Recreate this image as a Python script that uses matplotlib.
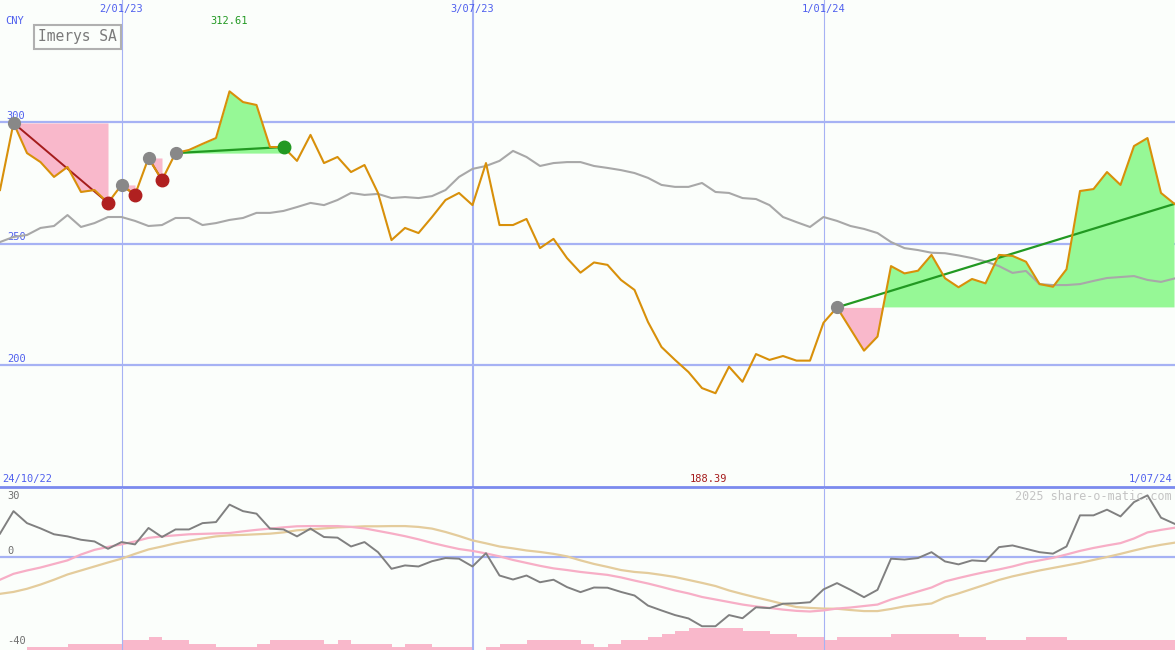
import numpy as np
import pandas as pd
import matplotlib
matplotlib.use('Agg')
import matplotlib.pyplot as plt
import matplotlib.dates as mdates

# weekly data, 88 weeks
dates = pd.date_range('2022-10-31', periods=88, freq='7D')

price = [272.0, 299.6, 287.2, 283.5, 277.4, 281.5, 271.2, 272.0, 266.7, 274.1,
         270.0, 285.2, 276.1, 287.2, 288.5, 291.0, 293.4, 312.61, 308.2, 307.0,
         289.7, 289.7, 284.0, 294.7, 283.1, 285.6, 279.4, 282.3, 270.8, 251.4,
         256.4, 254.3, 260.9, 267.9, 270.8, 265.8, 283.1, 257.6, 257.6, 260.1,
         248.1, 251.9, 244.0, 238.0, 242.2, 241.2, 235.0, 230.9, 217.7, 207.4,
         202.1, 197.1, 190.5, 188.39, 199.3, 193.1, 204.5, 202.1, 203.7, 201.8,
         201.8, 217.4, 223.7, 214.8, 205.9, 211.7, 240.7, 237.7, 238.8, 245.3,
         235.7, 232.0, 235.4, 233.6, 245.3, 244.9, 242.5, 233.3, 232.2, 239.4,
         271.6, 272.4, 279.4, 274.1, 290.1, 293.4, 270.8, 266.3]

avg_price = [250.6, 252.7, 253.5, 256.4, 257.2, 261.7, 256.8, 258.4, 260.9, 260.9,
             259.3, 257.2, 257.6, 260.5, 260.5, 257.6, 258.4, 259.7, 260.5, 262.6,
             262.6, 263.4, 265.0, 266.7, 265.8, 267.9, 270.8, 270.0, 270.4, 268.7,
             269.1, 268.7, 269.5, 272.0, 277.4, 280.7, 281.9, 284.0, 288.1, 285.6,
             281.9, 283.1, 283.5, 283.5, 281.9, 281.1, 280.2, 279.0, 277.0, 274.1,
             273.3, 273.3, 274.9, 271.2, 270.8, 268.7, 268.3, 265.8, 260.9, 258.8,
             256.8, 260.9, 259.3, 257.2, 256.0, 254.3, 250.6, 248.1, 247.3, 246.2,
             246.0, 245.1, 244.0, 242.6, 240.7, 237.9, 238.7, 233.3, 232.9, 232.9,
             233.3, 234.6, 235.8, 236.2, 236.6, 235.0, 234.2, 235.6]

momentum = [11.3, 22.0, 16.3, 13.8, 11.0, 10.0, 8.4, 7.6, 4.1, 7.3,
            6.2, 14.0, 9.7, 13.3, 13.3, 16.3, 16.8, 25.1, 22.0, 20.8,
            13.7, 13.3, 10.0, 13.7, 9.7, 9.4, 5.2, 7.3, 2.5, -5.4,
            -3.8, -4.3, -1.8, -0.3, -0.6, -4.3, 2.0, -8.6, -10.5, -8.6,
            -11.8, -10.6, -14.1, -16.5, -14.3, -14.4, -16.4, -18.1, -22.9, -25.2,
            -27.4, -29.0, -32.7, -32.7, -27.4, -28.9, -23.7, -24.1, -22.0, -21.8,
            -21.3, -15.2, -12.2, -15.4, -18.9, -15.4, -0.6, -1.0, -0.3, 2.5,
            -1.9, -3.3, -1.4, -1.8, 4.9, 5.7, 4.1, 2.5, 1.8, 5.2,
            20.0, 20.0, 22.7, 19.5, 26.3, 29.5, 18.9, 16.0]

mom_fast = [-10.6, -7.8, -6.2, -4.8, -3.1, -1.4, 1.4, 3.6, 5.0, 6.2,
            7.6, 9.3, 10.0, 10.5, 11.0, 11.2, 11.4, 11.6, 12.4, 13.1,
            13.7, 14.3, 14.8, 14.9, 14.9, 14.9, 14.5, 13.8, 12.6, 11.4,
            10.1, 8.6, 6.9, 5.4, 4.0, 3.1, 1.9, 0.5, -1.2, -2.6,
            -4.0, -5.2, -6.0, -6.9, -7.6, -8.3, -9.5, -11.0, -12.4, -14.0,
            -15.7, -17.1, -18.8, -20.0, -21.2, -22.4, -23.3, -24.0, -24.8, -25.4,
            -25.7, -25.2, -24.3, -23.8, -23.1, -22.4, -20.0, -18.1, -16.2, -14.3,
            -11.4, -9.8, -8.3, -6.9, -5.7, -4.3, -2.6, -1.4, -0.2, 1.4,
            3.1, 4.5, 5.7, 6.8, 9.0, 11.9, 13.1, 14.1]

mom_slow = [-17.3, -16.4, -14.9, -12.9, -10.6, -8.1, -6.2, -4.3, -2.4, -0.6,
            1.7, 3.8, 5.2, 6.7, 7.9, 9.0, 10.0, 10.5, 10.7, 11.0,
            11.3, 11.9, 12.9, 13.3, 13.8, 14.3, 14.5, 14.8, 14.8, 14.9,
            14.9, 14.5, 13.7, 12.1, 10.2, 8.1, 6.7, 5.2, 4.3, 3.3,
            2.6, 1.7, 0.5, -1.4, -3.1, -4.5, -6.0, -6.9, -7.4, -8.3,
            -9.3, -10.7, -12.1, -13.6, -15.7, -17.4, -19.0, -20.5, -22.1, -23.6,
            -24.0, -24.3, -24.4, -25.0, -25.5, -25.5, -24.5, -23.3, -22.6, -21.9,
            -19.0, -17.1, -15.0, -12.9, -10.7, -9.0, -7.6, -6.2, -5.0, -3.8,
            -2.6, -1.2, 0.2, 1.7, 3.3, 4.8, 6.0, 7.0]

volume = [0, 0, 1, 1, 1, 2, 2, 2, 2, 3,
          3, 4, 3, 3, 2, 2, 1, 1, 1, 2,
          3, 3, 3, 3, 2, 3, 2, 2, 2, 1,
          2, 2, 1, 1, 1, 0, 1, 2, 2, 3,
          3, 3, 3, 2, 1, 2, 3, 3, 4, 5,
          6, 7, 7, 7, 7, 6, 6, 5, 5, 4,
          4, 3, 4, 4, 4, 4, 5, 5, 5, 5,
          5, 4, 4, 3, 3, 3, 4, 4, 4, 3,
          3, 3, 3, 3, 3, 3, 3, 3]

# signal runs (start week, end week)
loss_runs = [(1, 8), (9, 10), (11, 12)]
gain_runs = [(13, 21)]
open_run = 62

price_levels = [300, 250, 200]
mom_labels = [30, 0, -40]
marker_dates = pd.to_datetime(['2023-01-02', '2023-07-03', '2024-01-01'])
range_start = '24/10/22'
range_end = '1/07/24'
title = 'Imerys SA'
currency = 'CNY'

# colours
bg = '#fbfefb'
grid_c = '#a6b2f4'
blue_txt = '#5060ee'
orange = '#d8900a'
pink = '#f9b8cb'
green_fill = '#96f896'
green = '#229922'
dred = '#a51c1c'

x = mdates.date2num(dates)
p = np.array(price)
step = x[1] - x[0]
x_end = x[0] + step * 1175 / 13.5

fig = plt.figure(figsize=(11.75, 6.5), dpi=100, facecolor=bg)
ax = fig.add_axes([0, 163 / 650, 1, 487 / 650], facecolor=bg)
ax2 = fig.add_axes([0, 0, 1, 162 / 650], facecolor=bg)
for a in (ax, ax2):
    a.set_xlim(x[0], x_end)
    a.set_xticks([])
    a.set_yticks([])
    for s in a.spines.values():
        s.set_visible(False)
    for i, d in enumerate(marker_dates):
        a.axvline(mdates.date2num(d), color=grid_c, lw=1.5 if i == 1 else 0.8, zorder=1)

ax.set_ylim(149.8, 350.2)
ax2.set_ylim(-44, 33)

mono = 'DejaVu Sans Mono'

# top panel
for lv in price_levels:
    ax.axhline(lv, color=grid_c, lw=1.6, zorder=1)
    ax.text(x[0] + step * 0.5, lv + 0.6, str(lv), color=blue_txt, fontsize=7.5,
            family=mono, va='bottom', ha='left', zorder=2)

for s, e in loss_runs:
    seg = slice(s, e + 1)
    ax.fill_between(x[seg], p[seg], p[s], color=pink, lw=0, zorder=2)
    ax.plot([x[s], x[e]], [p[s], p[e]], color=dred, lw=1.4, zorder=4)
for s, e in gain_runs:
    seg = slice(s, e + 1)
    ax.fill_between(x[seg], p[seg], p[s], color=green_fill, lw=0, zorder=2)
    ax.plot([x[s], x[e]], [p[s], p[e]], color=green, lw=1.6, zorder=4)

seg = slice(open_run, None)
lvl = p[open_run]
ax.fill_between(x[seg], p[seg], lvl, where=p[seg] < lvl, interpolate=True,
                color=pink, lw=0, zorder=2)
ax.fill_between(x[seg], p[seg], lvl, where=p[seg] >= lvl, interpolate=True,
                color=green_fill, lw=0, zorder=2)
ax.plot([x[open_run], x[-1]], [p[open_run], p[-1]], color=green, lw=1.6, zorder=4)

ax.plot(x, avg_price, color='#a8a8a8', lw=1.5, zorder=3)
ax.plot(x, p, color=orange, lw=1.5, zorder=4)

starts = [r[0] for r in loss_runs + gain_runs] + [open_run]
ax.plot(x[starts], p[starts], 'o', color='#888888', ms=8.5, zorder=5)
ends_l = [r[1] for r in loss_runs]
ax.plot(x[ends_l], p[ends_l], 'o', color='#b02020', ms=9, zorder=5)
ends_g = [r[1] for r in gain_runs]
ax.plot(x[ends_g], p[ends_g], 'o', color=green, ms=9, zorder=5)

# labels
top_y = 1 - 9 / 487
for d in marker_dates:
    ax.text(mdates.date2num(d), top_y, f"{d.day}/{d.month:02d}/{d.strftime('%y')}",
            transform=ax.get_xaxis_transform(), color=blue_txt, fontsize=7.5,
            family=mono, ha='center', va='center')
ax.text(5 / 1175, 1 - 21 / 487, currency, transform=ax.transAxes, color=blue_txt,
        fontsize=7.5, family=mono, va='center', ha='left')
imax = int(np.argmax(p))
imin = int(np.argmin(p))
ax.text(x[imax], 1 - 21 / 487, f"{p[imax]:.2f}", transform=ax.get_xaxis_transform(),
        color=green, fontsize=7.5, family=mono, ha='center', va='center')
ax.text(x[imin] - step * 0.5, 8 / 487, f"{p[imin]:.2f}", transform=ax.get_xaxis_transform(),
        color=dred, fontsize=7.5, family=mono, ha='center', va='center')
ax.text(2 / 1175, 8 / 487, range_start, transform=ax.transAxes, color=blue_txt,
        fontsize=7.5, family=mono, ha='left', va='center')
ax.text(1 - 3 / 1175, 8 / 487, range_end, transform=ax.transAxes, color=blue_txt,
        fontsize=7.5, family=mono, ha='right', va='center')
ax.text(38 / 1175, 1 - 37 / 487, title, transform=ax.transAxes, color='#7a7a7a',
        fontsize=10.5, family=mono, ha='left', va='center', zorder=6,
        bbox=dict(boxstyle='square,pad=0.3', fc=bg, ec='#b0b0b0', lw=1.5))
ax.plot([0, 1], [0, 0], transform=ax.transAxes, color='#7b8aee', lw=2,
        clip_on=False, zorder=6)

# bottom panel
ax2.axhline(0, color=grid_c, lw=1.6, zorder=1)
vax = ax2.twinx()
vax.set_ylim(0, 162 / 3.2)
vax.set_xlim(x[0], x_end)
vax.set_yticks([])
for s in vax.spines.values():
    s.set_visible(False)
vax.bar(x, volume, width=step, align='edge', color=pink, lw=0, zorder=1)
vax.plot(x, mom_fast, alpha=0)
vax.set_zorder(ax2.get_zorder() - 1)
ax2.patch.set_visible(False)
vax.patch.set_visible(True)
vax.patch.set_facecolor(bg)
ax2.plot(x, mom_slow, color='#e4cc9c', lw=1.6, zorder=2)
ax2.plot(x, mom_fast, color='#f7aec6', lw=1.6, zorder=3)
ax2.plot(x, momentum, color='#808080', lw=1.4, zorder=4)

lab_pos = {30: 1 - 8 / 162, 0: 1 - 63 / 162, -40: 1 - 153 / 162}
for v in mom_labels:
    ax2.text(7 / 1175, lab_pos[v], str(v), transform=ax2.transAxes, color='#707070',
             fontsize=7.5, family=mono, ha='left', va='center')
ax2.text(1 - 3 / 1175, 1 - 8 / 162, '2025 share-o-matic.com', transform=ax2.transAxes,
         color='#c4c4c4', fontsize=8.5, family=mono, ha='right', va='center', zorder=6)

fig.savefig('out.png', dpi=100, facecolor=bg)
